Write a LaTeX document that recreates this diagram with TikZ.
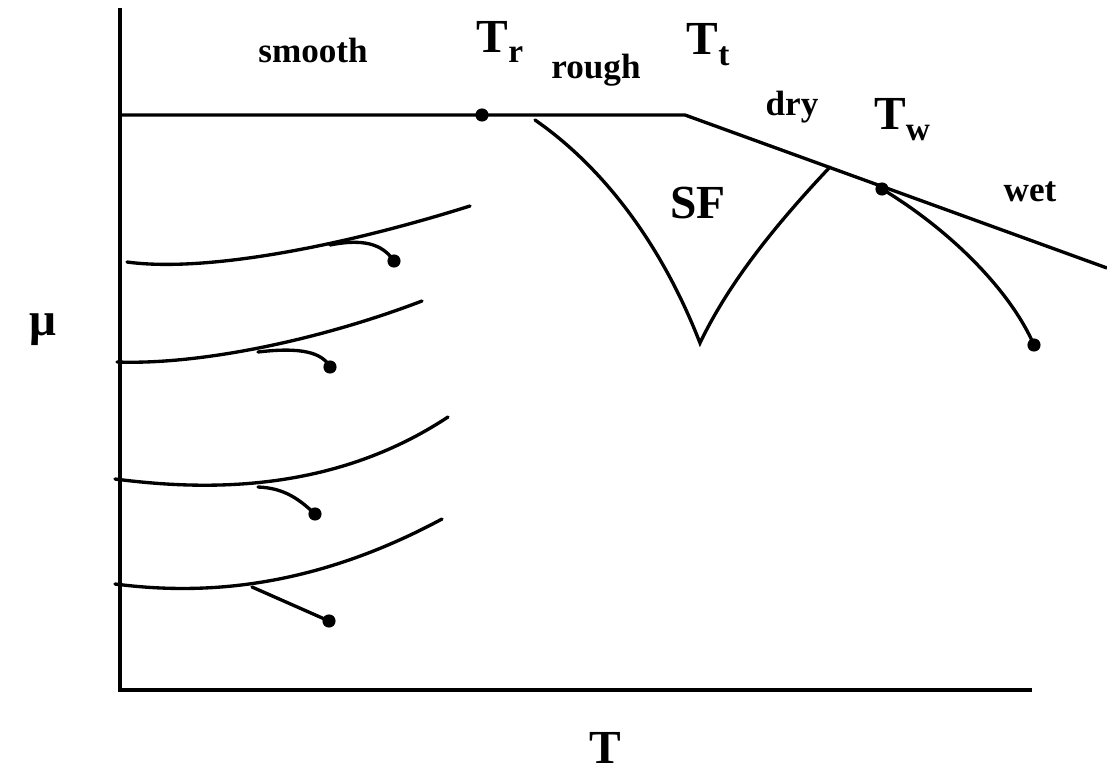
\documentclass[tikz,border=0pt]{standalone}
\usepackage{fontspec}
\setmainfont{Liberation Serif}
\usepackage{tikz}
\usetikzlibrary{positioning}

\newcommand{\tsub}[2]{#1\raisebox{-0.5ex}{\fontsize{19}{19}\selectfont #2}}

\begin{document}
\begin{tikzpicture}[x=0.02cm,y=-0.02cm,
        curve/.style={line width=1.9pt,line cap=round},
        axisline/.style={line width=2.1pt},
        dot/.style={circle,fill=black,inner sep=0pt,minimum size=7.5pt},
        lbl/.style={font=\bfseries\fontsize{20}{22}\selectfont,inner sep=1pt},
        biglbl/.style={font=\bfseries\fontsize{27}{30}\selectfont,inner sep=1pt}
      ]
        \useasboundingbox (0,0) rectangle (1107,775);
        % axes
        \coordinate (top) at (120,8);
        \coordinate (orig) at (120,690);
        \coordinate (xend) at (1032,690);
        \draw[axisline] (top)--(orig)--(xend);
        \node[biglbl] (mu) at (43,330) {μ};
        \node[biglbl] (T) at (605,748) {T};
        % phase boundary
        \coordinate (left) at (120,115);
        \coordinate (kink) at (685,115);
        \coordinate (right) at (1107,268);
        \draw[curve,line cap=butt] (left)--(kink)--(right);
        \node[dot] (Tr) at (482,115) {};
        \node[dot] (Tw) at (882,189) {};
        \node[dot] (wetend) at (1034,345) {};
        % SF region
        \coordinate (sfa) at (535,120);
        \coordinate (sfb) at (700,343);
        \coordinate (sfc) at (830,167);
        \draw[curve] (sfa) .. controls (600,165) and (660,240) .. (sfb)
                           .. controls (730,280) and (780,220) .. (sfc);
        \draw[curve] (Tw.center) .. controls (950,230) and (1010,290) .. (wetend.center);
        % smooth branches
        \node[dot] (d1) at (394,261) {};
        \node[dot] (d2) at (330,367) {};
        \node[dot] (d3) at (315,514) {};
        \node[dot] (d4) at (329,621) {};
        \draw[curve] (127,262) .. controls (200,272) and (330,250) .. (470,206);
        \draw[curve] (330,245) .. controls (370,237) and (385,248) .. (d1.center);
        \draw[curve] (117,362) .. controls (200,365) and (320,340) .. (422,301);
        \draw[curve] (258,352) .. controls (300,347) and (322,352) .. (d2.center);
        \draw[curve] (115,479) .. controls (200,490) and (330,495) .. (448,417);
        \draw[curve] (258,487) .. controls (285,488) and (300,500) .. (d3.center);
        \draw[curve] (115,584) .. controls (200,595) and (310,590) .. (442,519);
        \draw[curve] (252,587) -- (d4.center);
        % labels
        \node[lbl] (smooth) at (313,50) {smooth};
        \node[lbl] (rough) at (596,70) {rough};
        \node[lbl] (dry) at (792,107) {dry};
        \node[lbl] (wet) at (1030,192) {wet};
        \node[biglbl] (SF) at (698,203) {SF};
        \node[biglbl] (Trl) at (500,42) {\tsub{T}{r}};
        \node[biglbl] (Ttl) at (708,45) {\tsub{T}{t}};
        \node[biglbl] (Twl) at (902,120) {\tsub{T}{w}};
      \end{tikzpicture}
\end{document}
